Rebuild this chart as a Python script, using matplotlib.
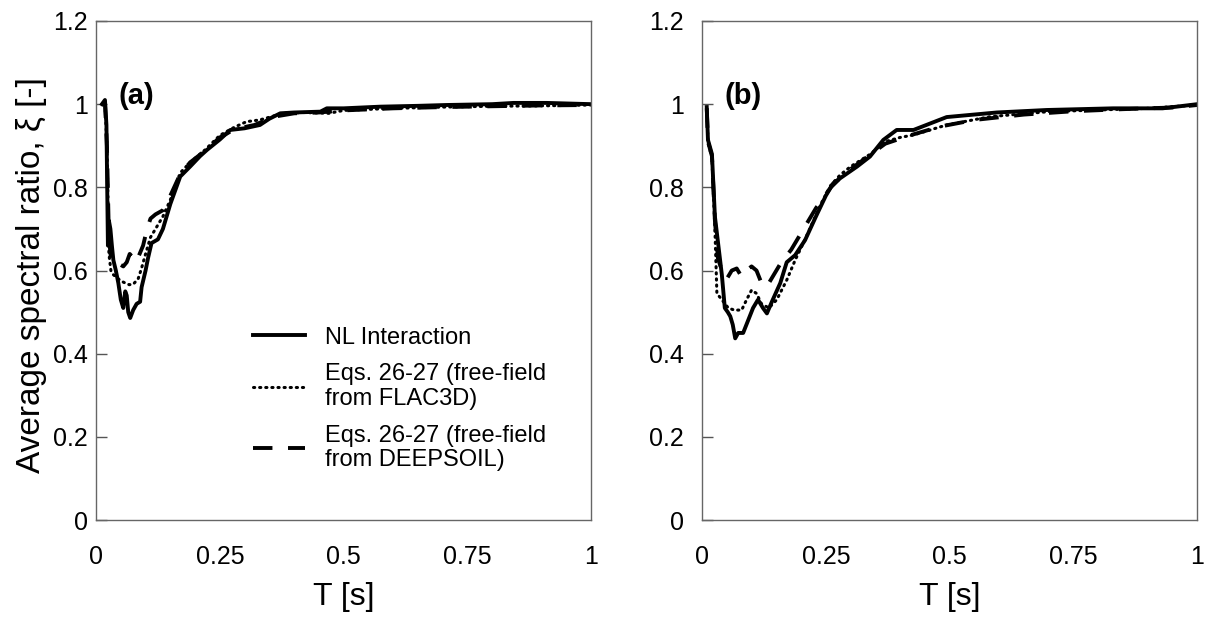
import matplotlib
matplotlib.use("Agg")
import matplotlib.pyplot as plt

plt.rcParams['font.family'] = ['Liberation Sans', 'DejaVu Sans']

# ----------------------------------------------------------------------------- #
# Panel (a) values
t_nl_a = [0.012, 0.018, 0.021, 0.024, 0.026, 0.029, 0.032, 0.035, 0.040, 0.045, 0.050, 0.055,
          0.059, 0.062, 0.065, 0.069, 0.075, 0.082, 0.089, 0.092, 0.100, 0.105, 0.112, 0.125,
          0.135, 0.140, 0.150, 0.170, 0.190, 0.210, 0.224, 0.250, 0.271, 0.300, 0.331, 0.350,
          0.372, 0.400, 0.453, 0.466, 0.500, 0.574, 0.650, 0.708, 0.800, 0.843, 0.910, 1.000]
xi_nl_a = [1.000, 1.010, 0.950, 0.660, 0.720, 0.700, 0.660, 0.625, 0.600, 0.570, 0.530, 0.510,
           0.550, 0.540, 0.500, 0.486, 0.505, 0.520, 0.525, 0.560, 0.600, 0.630, 0.666, 0.675,
           0.700, 0.720, 0.760, 0.826, 0.850, 0.875, 0.890, 0.915, 0.938, 0.942, 0.950, 0.965,
           0.978, 0.980, 0.982, 0.990, 0.990, 0.994, 0.996, 0.998, 1.000, 1.003, 1.003, 1.000]

t_flac_a = [0.012, 0.018, 0.022, 0.026, 0.030, 0.035, 0.040, 0.050, 0.059, 0.067, 0.075, 0.085,
            0.092, 0.100, 0.110, 0.120, 0.135, 0.150, 0.170, 0.190, 0.220, 0.250, 0.280, 0.304,
            0.330, 0.360, 0.380, 0.420, 0.470, 0.500, 0.600, 0.700, 0.800, 0.900, 1.000]
xi_flac_a = [1.000, 1.005, 0.900, 0.640, 0.600, 0.590, 0.585, 0.575, 0.570, 0.566, 0.567, 0.580,
             0.606, 0.640, 0.680, 0.700, 0.730, 0.770, 0.835, 0.860, 0.890, 0.925, 0.945, 0.958,
             0.962, 0.972, 0.978, 0.980, 0.978, 0.985, 0.990, 0.993, 0.995, 0.996, 0.998]

t_deep_a = [0.012, 0.018, 0.022, 0.026, 0.030, 0.035, 0.040, 0.048, 0.055, 0.062, 0.068, 0.074,
            0.081, 0.088, 0.095, 0.103, 0.110, 0.120, 0.135, 0.150, 0.170, 0.190, 0.220, 0.250,
            0.280, 0.320, 0.360, 0.400, 0.450, 0.500, 0.600, 0.700, 0.800, 0.900, 1.000]
xi_deep_a = [1.000, 1.005, 0.900, 0.680, 0.630, 0.625, 0.630, 0.615, 0.610, 0.620, 0.640, 0.632,
             0.620, 0.640, 0.660, 0.700, 0.725, 0.735, 0.745, 0.780, 0.832, 0.860, 0.888, 0.920,
             0.940, 0.950, 0.970, 0.978, 0.980, 0.985, 0.990, 0.993, 0.995, 0.997, 0.998]

# Panel (b)
t_nl_b = [0.0095, 0.012, 0.020, 0.026, 0.032, 0.040, 0.046, 0.052, 0.057, 0.062, 0.067, 0.073,
          0.083, 0.093, 0.103, 0.113, 0.123, 0.131, 0.141, 0.158, 0.171, 0.188, 0.208, 0.230,
          0.250, 0.265, 0.279, 0.313, 0.339, 0.366, 0.393, 0.427, 0.494, 0.595, 0.696, 0.830,
          0.930, 1.000]
xi_nl_b = [0.993, 0.914, 0.880, 0.730, 0.670, 0.590, 0.510, 0.500, 0.490, 0.470, 0.437, 0.450,
           0.450, 0.480, 0.510, 0.530, 0.510, 0.497, 0.525, 0.570, 0.620, 0.637, 0.673, 0.730,
           0.780, 0.810, 0.822, 0.850, 0.874, 0.914, 0.938, 0.938, 0.969, 0.980, 0.986, 0.990,
           0.990, 1.000]

t_flac_b = [0.0095, 0.012, 0.020, 0.026, 0.030, 0.040, 0.053, 0.065, 0.080, 0.090, 0.100, 0.110,
            0.120, 0.135, 0.151, 0.171, 0.188, 0.210, 0.240, 0.260, 0.279, 0.300, 0.340, 0.370,
            0.400, 0.427, 0.494, 0.582, 0.700, 0.800, 0.900, 1.000]
xi_flac_b = [0.990, 0.910, 0.870, 0.700, 0.545, 0.530, 0.510, 0.505, 0.505, 0.530, 0.553, 0.545,
             0.520, 0.510, 0.530, 0.577, 0.625, 0.680, 0.760, 0.805, 0.830, 0.850, 0.880, 0.910,
             0.920, 0.926, 0.950, 0.970, 0.982, 0.986, 0.990, 0.998]

t_deep_b = [0.0095, 0.012, 0.020, 0.026, 0.032, 0.040, 0.050, 0.060, 0.070, 0.080, 0.090, 0.100,
            0.110, 0.120, 0.130, 0.140, 0.160, 0.180, 0.200, 0.230, 0.260, 0.290, 0.330, 0.370,
            0.420, 0.480, 0.550, 0.650, 0.750, 0.850, 0.950, 1.000]
xi_deep_b = [0.990, 0.910, 0.875, 0.720, 0.630, 0.600, 0.580, 0.600, 0.605, 0.585, 0.600, 0.610,
             0.600, 0.570, 0.560, 0.580, 0.620, 0.650, 0.690, 0.750, 0.800, 0.835, 0.870, 0.905,
             0.925, 0.946, 0.962, 0.975, 0.983, 0.988, 0.992, 0.998]

x_ticks = [0, 0.25, 0.5, 0.75, 1]
x_tick_labels = ['0', '0.25', '0.5', '0.75', '1']
y_ticks = [0, 0.2, 0.4, 0.6, 0.8, 1.0, 1.2]
y_tick_labels = ['0', '0.2', '0.4', '0.6', '0.8', '1', '1.2']

legend_labels = ['NL Interaction',
                 'Eqs. 26-27 (free-field\nfrom FLAC3D)',
                 'Eqs. 26-27 (free-field\nfrom DEEPSOIL)']

# ----------------------------------------------------------------------------- #
fig = plt.figure(figsize=(12.05, 6.17), dpi=100)
ax_a = fig.add_axes([0.0797, 0.157, 0.411, 0.809])
ax_b = fig.add_axes([0.5826, 0.157, 0.411, 0.809])

panels = [
    (ax_a, '(a)', t_nl_a, xi_nl_a, t_flac_a, xi_flac_a, t_deep_a, xi_deep_a, 6),
    (ax_b, '(b)', t_nl_b, xi_nl_b, t_flac_b, xi_flac_b, t_deep_b, xi_deep_b, 13),
]

for ax, tag, t1, y1, t2, y2, t3, y3, ypad in panels:
    l1, = ax.plot(t1, y1, color='black', lw=2.8, solid_joinstyle='round')
    l2, = ax.plot(t2, y2, color='black', lw=2.2, linestyle=(0, (0.4, 1.6)),
                  dash_capstyle='round')
    l3, = ax.plot(t3, y3, color='black', lw=2.8, linestyle=(0, (5, 4)))

    ax.set_xlim(0, 1)
    ax.set_ylim(0, 1.2)
    ax.set_xticks(x_ticks)
    ax.set_xticklabels(x_tick_labels)
    ax.set_yticks(y_ticks)
    ax.set_yticklabels(y_tick_labels)
    ax.tick_params(axis='y', direction='in', length=8, width=1, color='#555555',
                   labelsize=18, pad=ypad)
    ax.tick_params(axis='x', length=0, labelsize=18, pad=18)
    for s in ax.spines.values():
        s.set_color('#666666')
        s.set_linewidth(1)

    ax.set_xlabel('T [s]', fontsize=23, labelpad=9)
    ax.text(0.046, 0.85, tag, transform=ax.transAxes, fontsize=21, fontweight='bold',
            va='center')

ax_a.set_ylabel('Average spectral ratio, ξ [-]', fontsize=24)
ax_a.yaxis.set_label_coords(-0.1, 0.49)

leg = ax_a.legend([l1, l2, l3], legend_labels, loc='upper left', bbox_to_anchor=(0.275, 0.43),
                  frameon=False, fontsize=17, handlelength=2.2, handletextpad=0.85,
                  labelspacing=0.62)
for txt in leg.get_texts():
    txt.set_linespacing(1.15)

fig.savefig('out.png', dpi=100)
